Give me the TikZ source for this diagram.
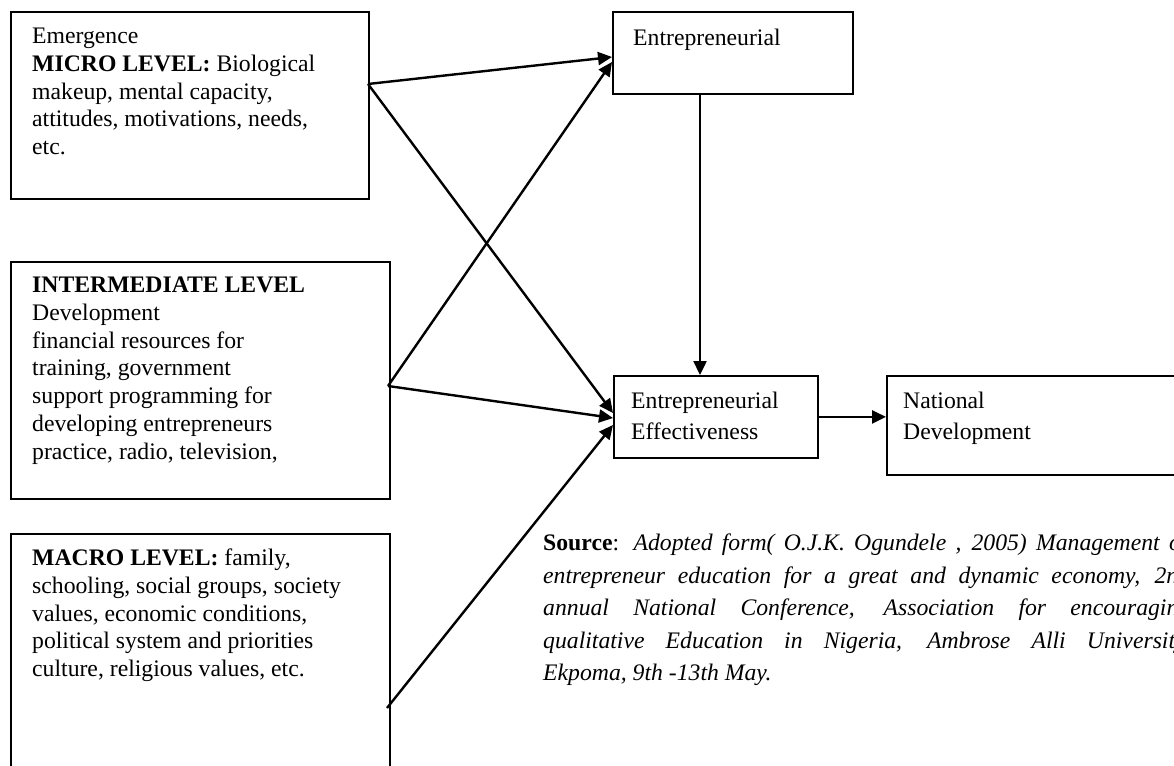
\documentclass[tikz,border=0pt]{standalone}
\usepackage{fontspec}
\setmainfont{Liberation Serif}
\usetikzlibrary{arrows.meta,calc}
\begin{document}
\begin{tikzpicture}[x=1pt,y=-1pt,
  box/.style={draw, line width=1.8pt, inner sep=0pt, anchor=north west},
  conn/.style={line width=2.4pt, -{Triangle[length=14pt,width=13pt]}},
  txt/.style={anchor=north west, inner sep=0pt, align=left, font=\fontsize{23.7}{27.7}\selectfont},
  txtb/.style={anchor=north west, inner sep=0pt, align=left, font=\fontsize{23.7}{31}\selectfont},
]
\useasboundingbox (0,0) rectangle (1174,765);
\clip (0,0) rectangle (1174,765);

% boxes
\node (micro) [box, minimum width=358pt, minimum height=187pt] at (10,11) {};
\node (inter) [box, minimum width=379pt, minimum height=237pt] at (10,261) {};
\node (macro) [box, minimum width=379pt, minimum height=250pt] at (10,533) {};
\node (ent)   [box, minimum width=240pt, minimum height=82pt] at (612,11) {};
\node (eff)   [box, minimum width=204pt, minimum height=82pt] at (613,375) {};
\node (nat)   [box, minimum width=300pt, minimum height=99pt] at (886,375) {};

% texts (top = first baseline - 16)
\node (microtxt) [txt] at (32,28) {Emergence\\
\textbf{MICRO LEVEL:} Biological\\
makeup, mental capacity,\\
attitudes, motivations, needs,\\
etc.};
\node (intertxt) [txt] at (32,277) {\textbf{INTERMEDIATE LEVEL}\\
Development\\
financial resources for\\
training, government\\
support programming for\\
developing entrepreneurs\\
practice, radio, television,};
\node (macrotxt) [txt] at (32,549) {\textbf{MACRO LEVEL:} family,\\
schooling, social groups, society\\
values, economic conditions,\\
political system and priorities\\
culture, religious values, etc.};
\node (enttxt) [txt] at (633,29) {Entrepreneurial};
\node (efftxt) [txtb] at (631,392) {Entrepreneurial\\Effectiveness};
\node (nattxt) [txtb] at (903,392) {National\\Development};

\node (source) [anchor=north west, inner sep=0pt, align=left,
  font=\fontsize{23.7}{32.5}\selectfont] at (543,534) {%
\hbox to 647pt{\textbf{Source}: \textit{Adopted form( O.J.K. Ogundele , 2005) Management of}}\\
\hbox to 647pt{\textit{entrepreneur education for a great and dynamic economy, 2nd}}\\
\hbox to 647pt{\textit{annual National Conference, Association for encouraging}}\\
\hbox to 647pt{\textit{qualitative Education in Nigeria, Ambrose Alli University,}}\\
\textit{Ekpoma, 9th -13th May.}};

% connector start points
\coordinate (mo) at (368,84);
\coordinate (io) at (388,386);
\coordinate (ao) at (387,708);

\draw[conn] (mo) -- ($(ent.north west)+(0,46)$);
\draw[conn] (io) -- ($(ent.north west)+(0,51)$);
\draw[conn] (mo) -- ($(eff.north west)+(0,38)$);
\draw[conn] (io) -- ($(eff.north west)+(0,43)$);
\draw[conn] (ao) -- ($(eff.north west)+(0,50)$);
\draw[conn] (ent.south -| 700,0) -- (eff.north -| 700,0);
\draw[conn] (eff.east) -- (nat.west |- eff.east);
\end{tikzpicture}
\end{document}
